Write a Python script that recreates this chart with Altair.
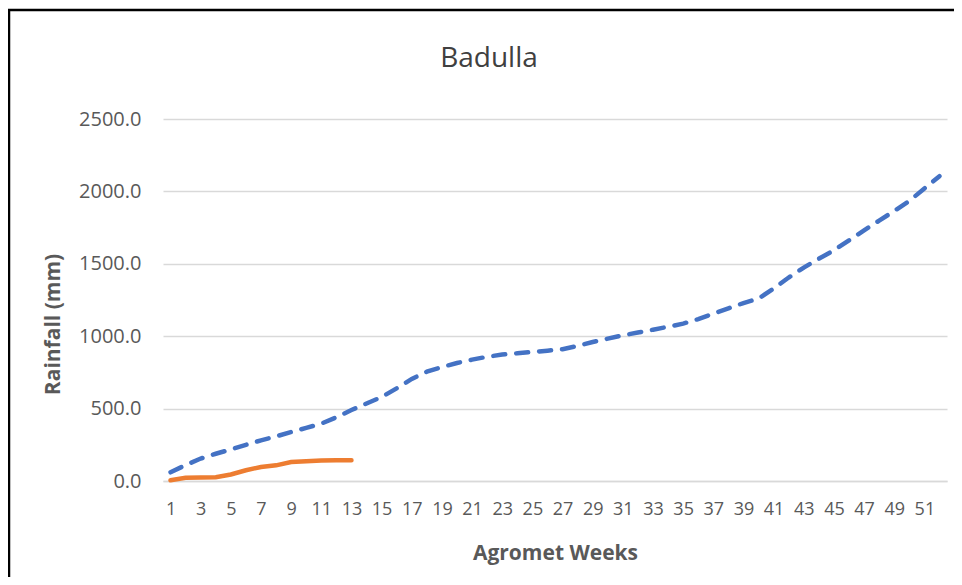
import altair as alt
import pandas as pd

weeks = list(range(1, 53))
normal_cum = [60, 110, 155, 188, 218, 250, 281, 308, 338, 367, 396, 440, 490,
              535, 580, 640, 705, 755, 787, 815, 838, 858, 873, 882, 891, 900,
              910, 933, 960, 983, 1006, 1025, 1045, 1065, 1087, 1118, 1156, 1192,
              1229, 1260, 1329, 1405, 1474, 1535, 1593, 1662, 1731, 1798, 1865,
              1934, 2020, 2105]
current_weeks = list(range(1, 14))
current_cum = [5, 22, 25, 26, 45, 74, 97, 108, 131, 136, 141, 143, 143]

x_label_weeks = list(range(1, 53, 2))
y_ticks = [0, 500, 1000, 1500, 2000, 2500]

df_normal = pd.DataFrame({"week": weeks, "rain": normal_cum})
df_current = pd.DataFrame({"week": current_weeks, "rain": current_cum})

W, H = 784, 362
FONT = "Open Sans"

x_enc = alt.X(
    "week:O",
    scale=alt.Scale(domain=weeks),
    axis=alt.Axis(
        title="Agromet Weeks",
        values=x_label_weeks,
        labelAngle=0,
        labelFontSize=18,
        labelColor="#595959",
        labelFont=FONT,
        labelPadding=19,
        ticks=False,
        domain=True,
        domainColor="#D9D9D9",
        domainWidth=1.3,
        grid=False,
        titleFontSize=21,
        titleFont=FONT,
        titleFontWeight="bold",
        titleColor="#595959",
        titlePadding=24,
        labelOverlap=False,
    ),
)
y_enc = alt.Y(
    "rain:Q",
    scale=alt.Scale(domain=[0, 2500], nice=False),
    axis=alt.Axis(
        title="Rainfall (mm)",
        values=y_ticks,
        format=".1f",
        labelFontSize=20,
        labelColor="#595959",
        labelFont=FONT,
        labelPadding=22,
        ticks=False,
        domain=False,
        grid=True,
        gridColor="#D9D9D9",
        gridWidth=1.3,
        titleFontSize=21,
        titleFont=FONT,
        titleFontWeight="bold",
        titleColor="#595959",
        titleX=-100,
        titleY=205,
        titleAnchor="middle",
    ),
)

normal = alt.Chart(df_normal).mark_line(
    color="#4472C4", strokeWidth=4.5, strokeDash=[12, 11], strokeCap="round"
).encode(x=x_enc, y=y_enc)

current = alt.Chart(df_current).mark_line(
    color="#ED7D31", strokeWidth=4.5, strokeCap="round"
).encode(x=alt.X("week:O", scale=alt.Scale(domain=weeks)), y="rain:Q")

border = alt.Chart(alt.Data(values=[{}])).mark_rect(
    fill="transparent", stroke="black", strokeWidth=2.5
).encode(
    x=alt.value(-154), x2=alt.value(W + 30),
    y=alt.value(-109), y2=alt.value(H + 120),
)

chart = alt.layer(border, normal, current).properties(
    width=W,
    height=H,
    background="white",
    title=alt.TitleParams(
        "Badulla", fontSize=28, font=FONT, fontWeight="normal",
        color="#404040", anchor="middle", frame="group", dx=-66,
        offset=48, dy=112,
    ),
    autosize=alt.AutoSizeParams(type="none"),
    padding={"left": 155, "top": 111, "right": 7, "bottom": 96},
).configure_view(strokeWidth=0, stroke="transparent")

chart.save("out.html", embed_options={"renderer": "svg", "actions": False})
